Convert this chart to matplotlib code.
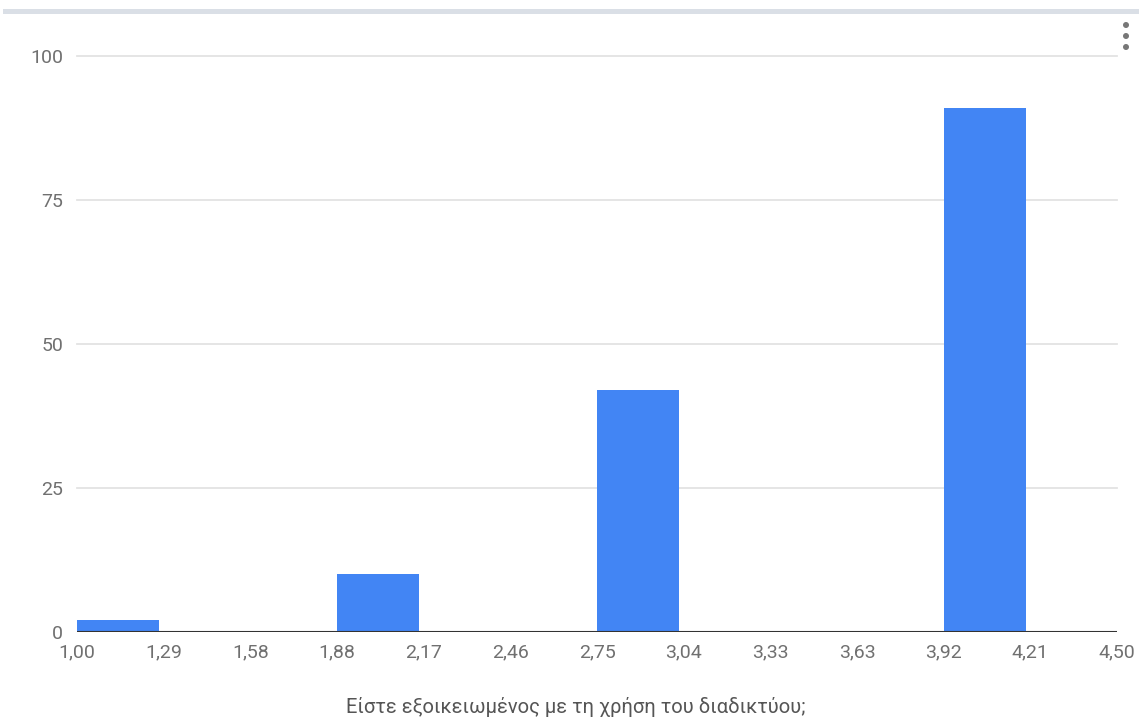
import numpy as np
import matplotlib
matplotlib.use("Agg")
import matplotlib.pyplot as plt
from matplotlib.patches import Rectangle, Circle

# data
bin_edges = np.linspace(1.0, 4.5, 13)
counts = [2, 0, 0, 10, 0, 0, 42, 0, 0, 0, 91, 0]
tick_labels = ["1,00", "1,29", "1,58", "1,88", "2,17", "2,46", "2,75",
               "3,04", "3,33", "3,63", "3,92", "4,21", "4,50"]
y_ticks = [0, 25, 50, 75, 100]
x_title = "Είστε εξοικειωμένος με τη χρήση του διαδικτύου;"

plt.rcParams['font.family'] = ['Roboto', 'DejaVu Sans']

fig = plt.figure(figsize=(11.41, 7.2), dpi=100)
ax = fig.add_axes([77 / 1141, 88 / 720, 1040 / 1141, 576.3 / 720])

bw = bin_edges[1] - bin_edges[0]
ax.bar(bin_edges[:-1], counts, width=bw * 0.946, align='edge',
       color='#4285f4', zorder=3)

ax.set_xlim(bin_edges[0], bin_edges[-1])
ax.set_ylim(0, 100)
ax.set_yticks(y_ticks)
ax.set_yticklabels([str(v) for v in y_ticks])
ax.set_xticks(bin_edges)
ax.set_xticklabels(tick_labels)

for v in y_ticks[1:]:
    ax.axhline(v, color='#e3e3e3', lw=1.3, zorder=1, clip_on=False)
ax.axhline(0, color='#333333', lw=1.5, zorder=4)

for s in ax.spines.values():
    s.set_visible(False)
ax.tick_params(length=0, labelsize=14, colors='#707070')
ax.tick_params(axis='y', pad=10)
ax.tick_params(axis='x', pad=8)
ax.set_xlabel(x_title, fontsize=14.5, color='#555555')
ax.xaxis.set_label_coords(0.48, -0.113)

# top grey strip and menu dots
fig.add_artist(Rectangle((3 / 1141, 1 - 14 / 720), 1136 / 1141, 5 / 720,
                         transform=fig.transFigure, color='#dadfe6', lw=0))
for yy in (25, 36, 47):
    fig.add_artist(Circle((11.26, (720 - yy) / 100), 0.03,
                          transform=fig.dpi_scale_trans, color='#777777', lw=0))

fig.savefig('out.png', dpi=100)
